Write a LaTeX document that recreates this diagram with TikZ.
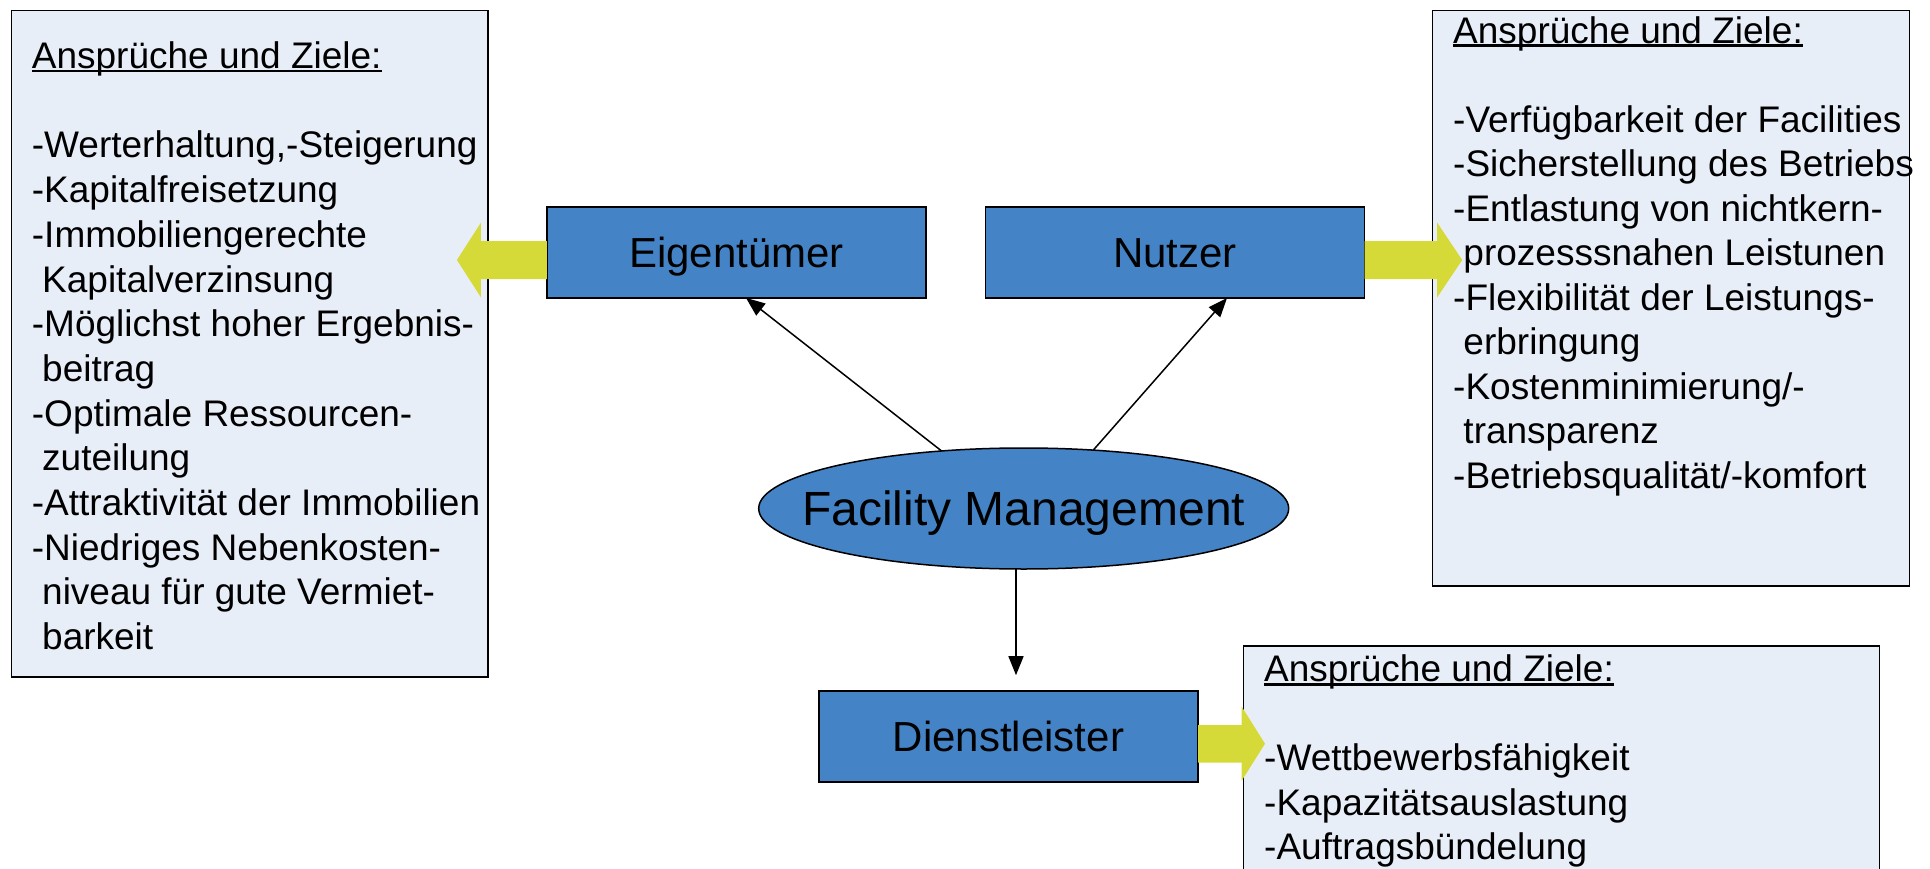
\documentclass[tikz,border=0pt]{standalone}
\usepackage{fontspec}
\setmainfont{Liberation Sans}
\usetikzlibrary{shapes.geometric,arrows.meta}

\definecolor{fmblau}{RGB}{68,132,198}
\definecolor{zielgrund}{RGB}{232,238,248}
\definecolor{pfeilgelb}{RGB}{214,218,56}

\newcommand{\unterstrichen}[1]{\setbox0=\hbox{#1}\rlap{\rule[-3.7pt]{\wd0}{2.6pt}}\box0}

\begin{document}
\begin{tikzpicture}[x=1pt,y=-1pt,
  blaubox/.style={draw=black,line width=1.5pt,fill=fmblau,minimum width=379pt,minimum height=91pt,
    inner sep=0pt,outer sep=0pt,font=\fontsize{42}{50}\selectfont,text height=30pt,text depth=0pt},
  fmellipse/.style={ellipse,draw=black,line width=1.5pt,fill=fmblau,minimum width=530pt,minimum height=121pt,
    inner sep=0pt,outer sep=0pt,font=\fontsize{48}{56}\selectfont,text height=34.4pt,text depth=0pt},
  zielbox/.style={draw=black,line width=1.5pt,fill=zielgrund,anchor=north west,inner sep=0pt},
  zieltext/.style={anchor=north west,align=left,inner sep=0pt,font=\fontsize{37}{44.5}\selectfont},
  verbindung/.style={line width=1.5pt,-{Triangle[length=19pt,width=15pt]}},
  gelbpfeil/.style={fill=pfeilgelb}]
  \clip (0,0) rectangle (1930,869);
  \node[zielbox,minimum width=476.3pt,minimum height=666pt] (linksbox) at (10.7,10) {};
  \node[zielbox,minimum width=477pt,minimum height=575pt] (rechtsbox) at (1431.7,10) {};
  \node[zielbox,minimum width=636pt,minimum height=240pt] (untenbox) at (1242.6,645) {};
  \node[blaubox] (eig) at (736.4,252.4) {Eigentümer};
  \node[blaubox] (nutzer) at (1175,252.5) {Nutzer};
  \node[blaubox] (dienst) at (1008.5,736.4) {Dienstleister};
  \node[fmellipse] (fm) at (1023.7,508.5) {\makebox[0pt]{Facility Management}};
  \fill[gelbpfeil] (eig.west) ++(0,-11.4) -- ++(-66,0) -- ++(0,-18.3) -- ++(-24,37.3) -- ++(24,37.3)
    -- ++(0,-18.3) -- ++(66,0) -- cycle;
  \fill[gelbpfeil] (nutzer.east) ++(0,-11.5) -- ++(72.7,0) -- ++(0,-18.3) -- ++(25,37.3) -- ++(-25,37.3)
    -- ++(0,-18.3) -- ++(-72.7,0) -- cycle;
  \fill[gelbpfeil] (dienst.east) ++(0,-11.4) -- ++(43.7,0) -- ++(0,-18.3) -- ++(23.3,37) -- ++(-23.3,37)
    -- ++(0,-18) -- ++(-43.7,0) -- cycle;
  \node[zieltext,font=\fontsize{37}{44.7}\selectfont] (linkstext) at (31.7,34.3) {\rule{0pt}{34pt}\unterstrichen{Ansprüche und Ziele:}\\ \mbox{}\\
    -Werterhaltung,-Steigerung\\
    -Kapitalfreisetzung\\
    -Immobiliengerechte\\
    \ Kapitalverzinsung\\
    -Möglichst hoher Ergebnis-\\
    \ beitrag\\
    -Optimale Ressourcen-\\
    \ zuteilung\\
    -Attraktivität der Immobilien\\
    -Niedriges Nebenkosten-\\
    \ niveau für gute Vermiet-\\
    \ barkeit};
  \node[zieltext] (rechtstext) at (1453,9) {\rule{0pt}{34pt}\unterstrichen{Ansprüche und Ziele:}\\ \mbox{}\\
    -Verfügbarkeit der Facilities\\
    -Sicherstellung des Betriebs\\
    -Entlastung von nichtkern-\\
    \ prozesssnahen Leistunen\\
    -Flexibilität der Leistungs-\\
    \ erbringung\\
    -Kostenminimierung/-\\
    \ transparenz\\
    -Betriebsqualität/-komfort};
  \node[zieltext] (untentext) at (1264,647.7) {\rule{0pt}{34pt}\unterstrichen{Ansprüche und Ziele:}\\ \mbox{}\\
    -Wettbewerbsfähigkeit\\
    -Kapazitätsauslastung\\
    -Auftragsbündelung};
  \draw[verbindung] (fm.145) -- ([xshift=9.6pt]eig.south);
  \draw[verbindung] (fm.40.6) -- ([xshift=52pt]nutzer.south);
  \draw[verbindung] ([xshift=-7.7pt]fm.south) -- ([xshift=7.5pt,yshift=15.7pt]dienst.north);
\end{tikzpicture}
\end{document}
